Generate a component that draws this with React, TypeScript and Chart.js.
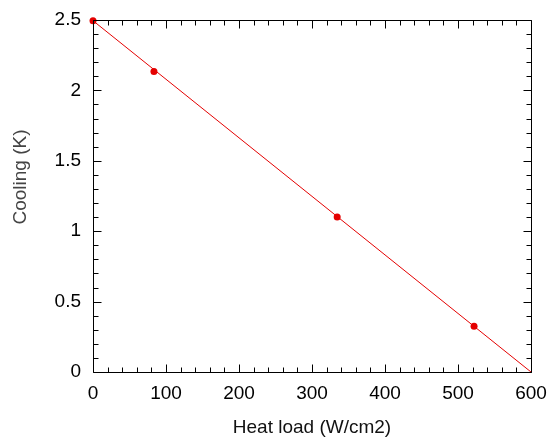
import React, { useEffect, useRef } from "react";
import { Chart, registerables } from "chart.js";

Chart.register(...registerables);

const heatLoad = [0, 83.5, 334.5, 522];
const cooling = [2.495, 2.135, 1.1, 0.325];
const fitX = [0, 600];
const fitY = [2.495, 0];
const xMajor = [0, 100, 200, 300, 400, 500, 600];
const yMajor = [0, 0.5, 1, 1.5, 2, 2.5];
const xMinorStep = 20;
const yMinorStep = 0.1;
const xTitle = "Heat load (W/cm2)";
const yTitle = "Cooling (K)";

const RED = "rgb(228,0,0)";
const FONT = "'Liberation Sans', Arial, Helvetica, sans-serif";

const framePlugin = {
  id: "frameTicks",
  afterDatasetsDraw(chart: any) {
    const { ctx, chartArea, scales } = chart;
    const { left, right, top, bottom } = chartArea;
    const xs = scales.x;
    const ys = scales.y;
    ctx.save();
    ctx.strokeStyle = "#000";
    ctx.lineWidth = 1;
    ctx.beginPath();
    const L = Math.round(left) + 0.5;
    const R = Math.round(right) + 0.5;
    const T = Math.round(top) + 0.5;
    const B = Math.round(bottom) + 0.5;
    ctx.rect(L, T, R - L, B - T);
    for (let i = 0; i <= 30; i++) {
      const v = i * xMinorStep;
      const isMajor = xMajor.some((m) => Math.abs(m - v) < 1e-6);
      const len = isMajor ? 8 : 5;
      const px = Math.round(xs.getPixelForValue(v)) + 0.5;
      ctx.moveTo(px, B);
      ctx.lineTo(px, B - len);
      ctx.moveTo(px, T);
      ctx.lineTo(px, T + len);
    }
    for (let i = 0; i <= 25; i++) {
      const v = i * yMinorStep;
      const isMajor = yMajor.some((m) => Math.abs(m - v) < 1e-6);
      const len = isMajor ? 8 : 5;
      const py = Math.round(ys.getPixelForValue(v)) + 0.5;
      ctx.moveTo(L, py);
      ctx.lineTo(L + len, py);
      ctx.moveTo(R, py);
      ctx.lineTo(R - len, py);
    }
    ctx.stroke();
    ctx.restore();
  },
  afterDraw(chart: any) {
    const { ctx } = chart;
    ctx.save();
    ctx.fillStyle = "#444";
    ctx.font = `19px ${FONT}`;
    ctx.textAlign = "center";
    ctx.textBaseline = "middle";
    ctx.translate(20.5, 177);
    ctx.rotate(-Math.PI / 2);
    ctx.fillText(yTitle, 0, 0);
    ctx.restore();
  },
};

export default function App() {
  const ref = useRef<HTMLCanvasElement | null>(null);
  useEffect(() => {
    document.body.style.margin = "0";
    const canvas = ref.current;
    if (!canvas) return;
    const chart = new Chart(canvas, {
      type: "scatter",
      data: {
        datasets: [
          {
            type: "line",
            label: "fit",
            data: fitX.map((x, i) => ({ x, y: fitY[i] })),
            borderColor: RED,
            borderWidth: 1,
            pointRadius: 0,
            fill: false,
            clip: false as any,
          } as any,
          {
            label: "data",
            data: heatLoad.map((x, i) => ({ x, y: cooling[i] })),
            backgroundColor: RED,
            borderColor: RED,
            pointRadius: 3.5,
            borderWidth: 0,
            clip: false as any,
          } as any,
        ],
      },
      options: {
        responsive: false,
        animation: false,
        layout: { padding: { top: 20, right: 19, left: 0, bottom: 0 } },
        plugins: {
          legend: { display: false },
          tooltip: { enabled: false },
        },
        scales: {
          x: {
            type: "linear",
            min: 0,
            max: 600,
            grid: { display: false, drawTicks: false },
            border: { display: false },
            ticks: {
              stepSize: 100,
              padding: 10,
              color: "#000",
              font: { family: FONT, size: 19 },
              maxRotation: 0,
              callback: (v: any) => String(v),
            },
            title: {
              display: true,
              text: xTitle,
              color: "#111",
              font: { family: FONT, size: 19, lineHeight: 1 },
              padding: { top: 0, bottom: 0 },
            },
            afterFit(scale: any) {
              scale.height = 65;
              scale.paddingLeft = 0;
              scale.paddingRight = 0;
            },
          },
          y: {
            type: "linear",
            min: 0,
            max: 2.5,
            grid: { display: false, drawTicks: false },
            border: { display: false },
            ticks: {
              stepSize: 0.5,
              padding: 12,
              color: "#000",
              font: { family: FONT, size: 19 },
              callback: (v: any) => String(v),
            },
            title: { display: false },
            afterFit(scale: any) {
              scale.width = 93;
              scale.paddingTop = 0;
              scale.paddingBottom = 0;
            },
          },
        },
      },
      plugins: [framePlugin],
    });
    return () => chart.destroy();
  }, []);
  return (
    <div style={{ width: 550, height: 437 }}>
      <canvas ref={ref} width={550} height={437} />
    </div>
  );
}
